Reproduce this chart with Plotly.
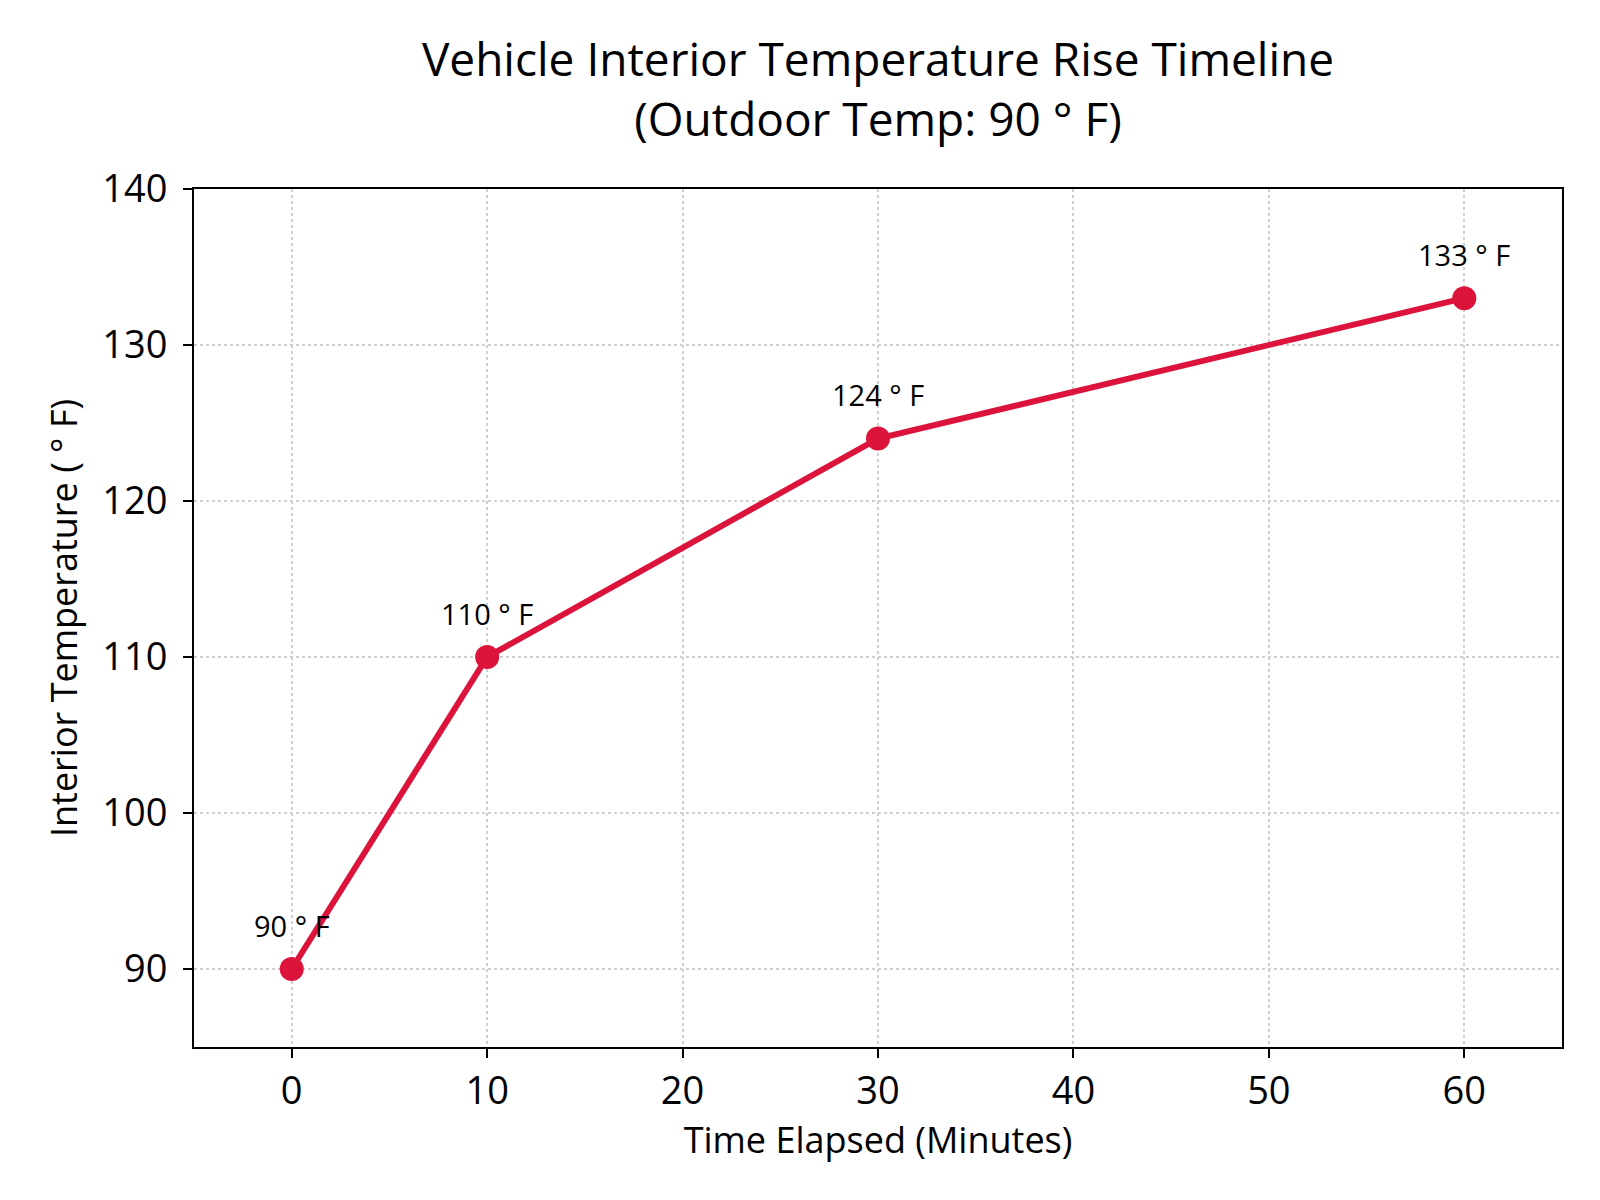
import plotly.graph_objects as go

# data
minutes = [0, 10, 30, 60]
temps_f = [90, 110, 124, 133]
point_labels = ["90 ° F", "110 ° F", "124 ° F", "133 ° F"]

x_ticks = [0, 10, 20, 30, 40, 50, 60]
y_ticks = [90, 100, 110, 120, 130, 140]

LINE_RED = "#DC143C"
FONT = "Open Sans, Lato, sans-serif"

fig = go.Figure()

fig.add_trace(go.Scatter(
    x=minutes,
    y=temps_f,
    mode="lines+markers",
    line=dict(color=LINE_RED, width=6),
    marker=dict(color=LINE_RED, size=24),
    showlegend=False,
))

for xv, yv, lab in zip(minutes, temps_f, point_labels):
    fig.add_annotation(
        x=xv, y=yv, text=lab, showarrow=False,
        yshift=44, font=dict(size=29, color="black", family=FONT),
    )

axis_common = dict(
    showline=True, linecolor="black", linewidth=2, mirror=True,
    ticks="outside", ticklen=9, tickwidth=2, tickcolor="black",
    showgrid=True, gridcolor="#cfcfcf", gridwidth=1.5, griddash="dot",
    zeroline=False,
    tickfont=dict(size=38, color="black", family=FONT),
)

fig.update_xaxes(
    range=[-5, 65], tickvals=x_ticks,
    title=dict(text="Time Elapsed (Minutes)", font=dict(size=36, color="black", family=FONT), standoff=14),
    **axis_common,
)
fig.update_yaxes(
    range=[85, 140], tickvals=y_ticks, ticklabelstandoff=8,
    title=dict(text="Interior Temperature ( ° F)", font=dict(size=36, color="black", family=FONT), standoff=14),
    **axis_common,
)

fig.update_layout(
    width=1600, height=1200,
    paper_bgcolor="white", plot_bgcolor="white",
    margin=dict(l=186, r=46, t=181, b=161),
    title=dict(
        text="Vehicle Interior Temperature Rise Timeline<br>(Outdoor Temp: 90 ° F)",
        x=0.5, xref="paper", xanchor="center",
        y=0.943, yref="container", yanchor="middle",
        font=dict(size=46, color="black", family=FONT),
    ),
    font=dict(family=FONT, color="black"),
)

fig.write_html("out.html")
